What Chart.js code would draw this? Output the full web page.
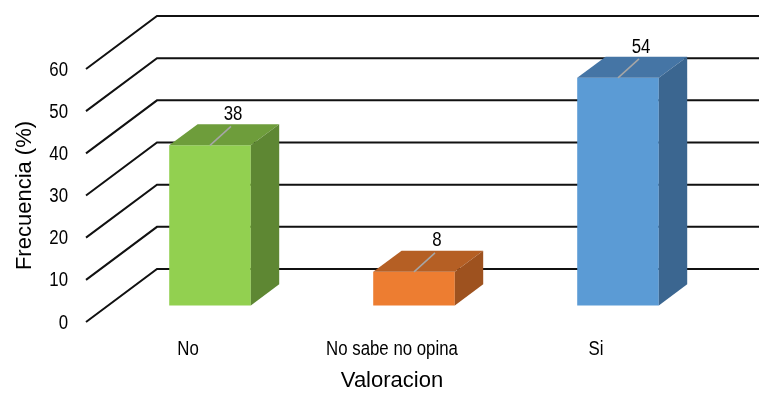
<!DOCTYPE html>
<html>
<head>
<meta charset="utf-8">
<script src="https://cdn.jsdelivr.net/npm/chart.js@4"></script>
<style>
    html, body { margin: 0; padding: 0; background: #fff; }
    #wrap { width: 759px; height: 394px; }
</style>
</head>
<body>
<div id="wrap"><canvas id="freq-chart" width="759" height="394"></canvas></div>
<script>
const categories = ['No', 'No sabe no opina', 'Si']
const values = [38, 8, 54]
const yMin = 0
const yMax = 60
const yStep = 10

const frontColors = ['#92D050', '#ED7D31', '#5B9BD5']
const topColors = ['#6E9D3B', '#B55F24', '#4575A5']
const sideColors = ['#5E8733', '#9E521F', '#3B6690']

// depth of the floor/back wall, and where the bars sit inside it
const depthX = 71
const depthY = -53
const barPos = 0.31
const barDepth = 0.4

const regular = "'Liberation Sans', Arial, sans-serif"
const labelFont = `20.5px ${regular}`

// narrow text: regular face squeezed horizontally
function narrowText(ctx, text, x, y, align) {
    ctx.save()
    ctx.translate(x, y)
    ctx.scale(0.82, 1)
    ctx.font = labelFont
    ctx.fillStyle = '#000'
    ctx.textAlign = align
    ctx.textBaseline = 'middle'
    ctx.fillText(text, 0, 0)
    ctx.restore()
}

const box3d = {
    id: 'box3d',
    beforeDatasetsDraw(chart) {
        const { ctx, chartArea, scales } = chart
        const y = scales.y
        ctx.save()
        ctx.strokeStyle = '#111'
        ctx.lineWidth = 2
        y.ticks.forEach(t => {
            const py = y.getPixelForValue(t.value)
            ctx.beginPath()
            ctx.moveTo(chartArea.left, py)
            ctx.lineTo(chartArea.left + depthX, py + depthY)
            ctx.lineTo(chart.width, py + depthY)
            ctx.stroke()
        })
        ctx.restore()
        // front faces are drawn by chart.js, pushed back into the box
        ctx.save()
        ctx.translate(depthX * barPos, depthY * barPos)
    },
    afterDatasetsDraw(chart) {
        const { ctx, chartArea, scales } = chart
        ctx.restore()
        const ox = depthX * barPos
        const oy = depthY * barPos
        const bx = depthX * barDepth
        const by = depthY * barDepth
        const meta = chart.getDatasetMeta(0)
        meta.data.forEach((bar, i) => {
            const x0 = bar.x - bar.width / 2 + ox
            const x1 = bar.x + bar.width / 2 + ox
            const top = bar.y + oy
            const base = bar.base + oy
            ctx.fillStyle = topColors[i]
            ctx.beginPath()
            ctx.moveTo(x0, top)
            ctx.lineTo(x0 + bx, top + by)
            ctx.lineTo(x1 + bx, top + by)
            ctx.lineTo(x1, top)
            ctx.closePath()
            ctx.fill()
            ctx.fillStyle = sideColors[i]
            ctx.beginPath()
            ctx.moveTo(x1, top)
            ctx.lineTo(x1 + bx, top + by)
            ctx.lineTo(x1 + bx, base + by)
            ctx.lineTo(x1, base)
            ctx.closePath()
            ctx.fill()

            // leader line and value label
            const cx = bar.x + ox
            ctx.strokeStyle = '#A6A6A6'
            ctx.lineWidth = 1.5
            ctx.beginPath()
            ctx.moveTo(cx, top)
            ctx.lineTo(cx + 21, top - 19)
            ctx.stroke()
            narrowText(ctx, String(values[i]), cx + 23, top - 31, 'center')
        })

        // axis labels
        scales.y.ticks.forEach(t => {
            narrowText(ctx, String(t.value), chartArea.left - 18, scales.y.getPixelForValue(t.value) + 1, 'right')
        })
        categories.forEach((c, i) => {
            narrowText(ctx, c, scales.x.getPixelForValue(i), chartArea.bottom + 27, 'center')
        })
    }
}

const chart = new Chart(document.querySelector('#freq-chart'), {
    type: 'bar',
    data: {
        labels: categories,
        datasets: [{
            data: values,
            backgroundColor: frontColors,
            borderWidth: 0,
            categoryPercentage: 1,
            barPercentage: 0.4,
            clip: false
        }]
    },
    options: {
        responsive: false,
        animation: false,
        events: [],
        layout: { padding: { top: 69, right: 61, left: 0, bottom: 0 } },
        plugins: { legend: { display: false }, tooltip: { enabled: false } },
        scales: {
            x: {
                grid: { display: false },
                border: { display: false },
                ticks: { display: false },
                title: {
                    display: true,
                    text: 'Valoracion',
                    color: '#000',
                    font: { family: regular, size: 22 },
                    padding: { top: 0, bottom: 0 }
                },
                afterFit: scale => { scale.height = 72 }
            },
            y: {
                min: yMin,
                max: yMax,
                grid: { display: false, drawTicks: false },
                border: { display: false },
                ticks: { stepSize: yStep, display: false },
                title: {
                    display: true,
                    text: 'Frecuencia (%)',
                    color: '#000',
                    font: { family: regular, size: 22 },
                    padding: { top: 12, bottom: 0 }
                },
                afterFit: scale => { scale.width = 86 }
            }
        }
    },
    plugins: [box3d]
})
</script>
</body>
</html>
